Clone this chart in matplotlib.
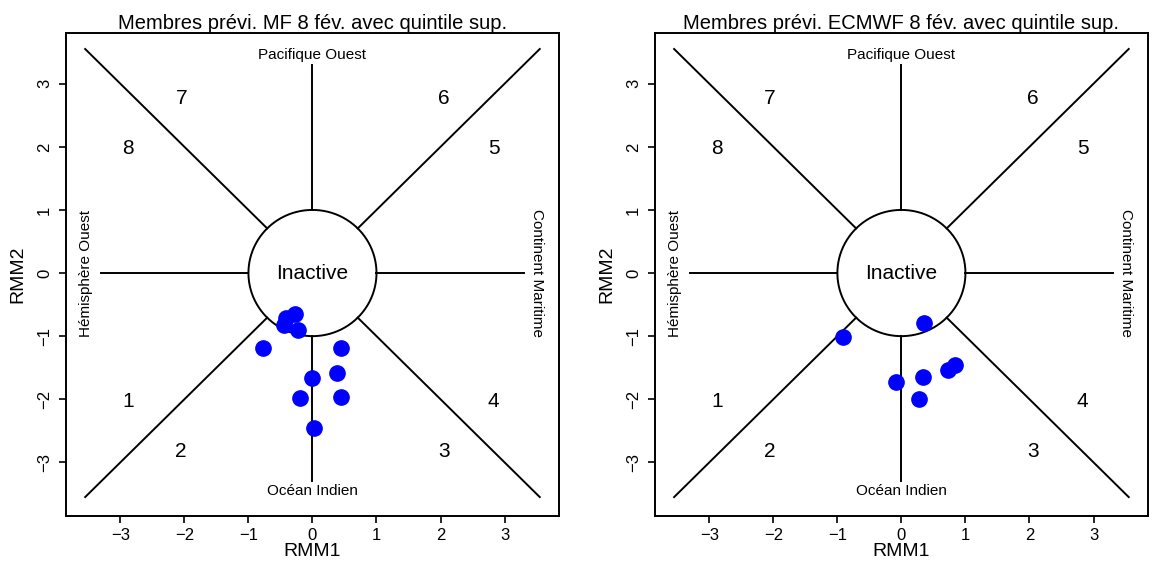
import matplotlib.pyplot as plt
import numpy as np

plt.rcParams['font.family'] = ['Liberation Sans', 'DejaVu Sans']

titles = ['Membres prévi. MF 8 fév. avec quintile sup.',
          'Membres prévi. ECMWF 8 fév. avec quintile sup.']

mf_rmm1 = [-0.28, -0.41, -0.44, -0.23, -0.77, 0.44, 0.00, 0.39, 0.45, -0.20, 0.03]
mf_rmm2 = [-0.65, -0.71, -0.82, -0.90, -1.18, -1.18, -1.67, -1.59, -1.97, -1.98, -2.46]

ec_rmm1 = [0.36, -0.91, -0.09, 0.34, 0.27, 0.72, 0.83]
ec_rmm2 = [-0.79, -1.02, -1.72, -1.65, -2.00, -1.53, -1.45]

phase_labels = ['1', '2', '3', '4', '5', '6', '7', '8']
phase_x = [-2.88, -2.05, 2.05, 2.83, 2.83, 2.05, -2.05, -2.88]
phase_y = [-2.03, -2.83, -2.83, -2.03, 1.97, 2.77, 2.77, 1.97]

ticks = [-3, -2, -1, 0, 1, 2, 3]


def phase_diagram(ax, x, y, title):
    ax.set_xlim(-3.85, 3.85)
    ax.set_ylim(-3.85, 3.8)
    # diagonals
    c = np.cos(np.pi / 4)
    for sx in (-1, 1):
        for sy in (-1, 1):
            ax.plot([sx * c, sx * 3.55], [sy * c, sy * 3.55], color='black', lw=1.4)
    # axes lines
    ax.plot([1, 3.3], [0, 0], color='black', lw=1.4)
    ax.plot([-1, -3.3], [0, 0], color='black', lw=1.4)
    ax.plot([0, 0], [1, 3.3], color='black', lw=1.4)
    ax.plot([0, 0], [-1, -3.3], color='black', lw=1.4)
    t = np.linspace(0, 2 * np.pi, 200)
    ax.plot(np.cos(t), np.sin(t), color='black', lw=1.4)
    ax.text(0, 0, 'Inactive', ha='center', va='center', fontsize=15)
    for lab, px, py in zip(phase_labels, phase_x, phase_y):
        ax.text(px, py, lab, ha='center', va='center', fontsize=15)
    ax.text(0, 3.45, 'Pacifique Ouest', ha='center', va='center', fontsize=11)
    ax.text(0, -3.46, 'Océan Indien', ha='center', va='center', fontsize=11)
    ax.text(-3.53, 0, 'Hémisphère Ouest', ha='center', va='center', rotation=90, fontsize=11)
    ax.text(3.5, 0, 'Continent Maritime', ha='center', va='center', rotation=-90, fontsize=11)
    ax.plot(x, y, 'o', color='blue', markersize=11, zorder=5)
    ax.set_xticks(ticks)
    ax.set_yticks(ticks)
    ax.set_xticklabels([str(v).replace('-', '\u2212') for v in ticks], fontsize=12)
    ax.set_yticklabels([str(v).replace('-', '\u2212') for v in ticks], rotation=90,
                       va='center', fontsize=12)
    ax.tick_params(direction='out', length=5, width=1.2)
    ax.tick_params(axis='y', pad=5)
    for s in ax.spines.values():
        s.set_linewidth(1.4)
    ax.set_xlabel('RMM1', fontsize=14, labelpad=0)
    ax.set_ylabel('RMM2', fontsize=14, labelpad=8)
    ax.set_title(title, fontsize=14.5, pad=3)


fig = plt.figure(figsize=(11.53, 5.64), dpi=100)
ax1 = fig.add_axes([0.0572, 0.0851, 0.4276, 0.856])
ax2 = fig.add_axes([0.568, 0.0851, 0.4276, 0.856])
phase_diagram(ax1, mf_rmm1, mf_rmm2, titles[0])
phase_diagram(ax2, ec_rmm1, ec_rmm2, titles[1])
fig.savefig('out.png', dpi=100)
